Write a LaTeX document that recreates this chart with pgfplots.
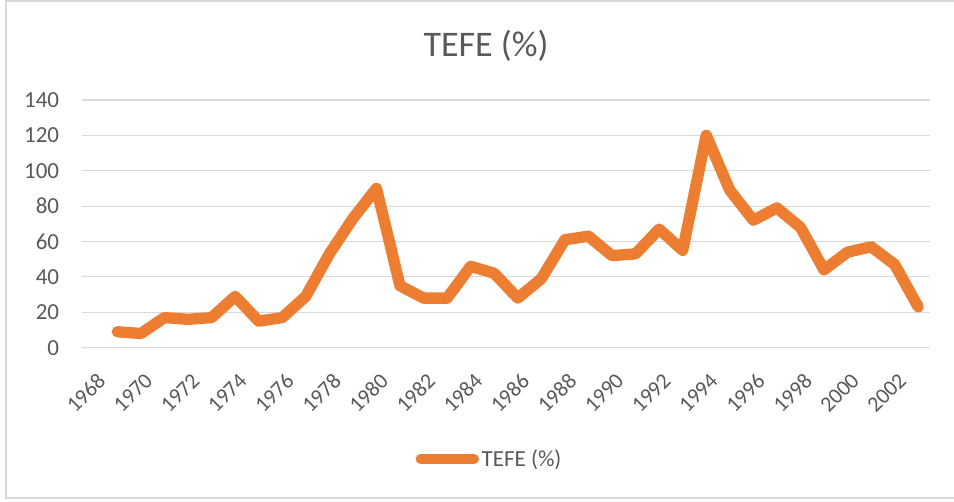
\documentclass[border=0pt]{standalone}
\usepackage{pgfplots}
\pgfplotsset{compat=1.18}
\usepackage{fontspec}
\setmainfont{Carlito}
\definecolor{txt}{RGB}{89,89,89}
\definecolor{grid}{RGB}{217,217,217}
\definecolor{exorange}{RGB}{237,125,49}
\begin{document}
\begin{tikzpicture}
\path[use as bounding box] (0,0) rectangle (715.5pt,375.75pt);
\draw[grid, line width=1.2pt] (4.5pt,2.25pt) rectangle (716pt,375pt);
\node[anchor=base, text=txt, font=\fontsize{27pt}{32pt}\selectfont, inner sep=0pt] at (364.5pt,333pt) {TEFE (\%)};
\begin{axis}[
  at={(61.5pt,115pt)}, anchor=south west,
  scale only axis, width=636pt, height=185.8pt,
  xmin=1967.5, xmax=2003.5, ymin=0, ymax=140,
  ytick={0,20,...,140},
  xtick={1968,1970,...,2002},
  axis line style={draw=none},
  tick style={draw=none},
  ymajorgrids, xmajorgrids=false,
  y grid style={grid, line width=0.9pt},
  /pgf/number format/assume math mode=true,
  /pgf/number format/1000 sep={},
  every tick label/.append style={text=txt, font=\fontsize{17.25pt}{20pt}\selectfont},
  yticklabel style={anchor=east, inner sep=0pt, xshift=-17pt},
  xticklabel style={xshift=6pt, yshift=-22pt, rotate=45, anchor=east, inner sep=0pt, font=\fontsize{16.5pt}{19pt}\selectfont},
  legend style={at={(0.481,-0.449)}, anchor=center, draw=none, fill=none,
    font=\fontsize{17.25pt}{20pt}\selectfont, text=txt,
    legend cell align=left, inner sep=0pt},
  legend image code/.code={\draw[line width=7.5pt, line cap=round, exorange] (0pt,0pt) -- (40pt,0pt);},
  clip=false,
]
\addplot[exorange, line width=8.5pt, line join=round, line cap=round] coordinates {
(1969,9) (1970,8) (1971,17) (1972,16) (1973,17) (1974,29) (1975,15) (1976,17)
(1977,29) (1978,53) (1979,73) (1980,90) (1981,35) (1982,28) (1983,28) (1984,46)
(1985,42) (1986,28) (1987,39) (1988,61) (1989,63) (1990,52) (1991,53) (1992,67)
(1993,55) (1994,120) (1995,89) (1996,72) (1997,79) (1998,68) (1999,44) (2000,54)
(2001,57) (2002,47) (2003,23)
};
\addlegendentry{TEFE (\%)}
\end{axis}
\end{tikzpicture}
\end{document}
